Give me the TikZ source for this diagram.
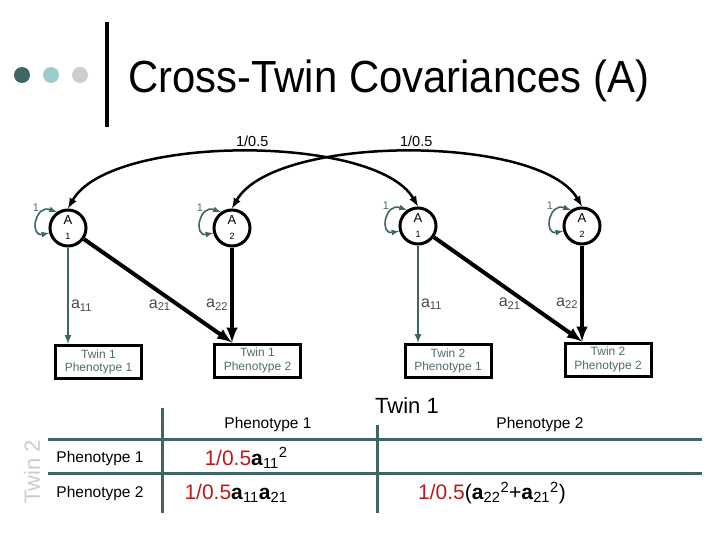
\documentclass[tikz,border=0pt]{standalone}
\usepackage{fontspec}
\setmainfont{Liberation Sans}
\usepackage{graphicx}
\usetikzlibrary{calc}

\definecolor{darkteal}{RGB}{61,102,102}
\definecolor{lightteal}{RGB}{153,204,204}
\definecolor{lightgrey}{RGB}{204,204,204}
\definecolor{boxtext}{RGB}{77,107,107}
\definecolor{coefgrey}{RGB}{64,76,76}
\definecolor{covred}{RGB}{192,24,24}
\newcommand{\fsz}[1]{\fontsize{#1}{#1}\selectfont}

\tikzset{
  latent/.style={circle, draw, line width=3pt, minimum size=36pt, inner sep=0pt, align=center, font=\fsz{13}},
  obsbox/.style={rectangle, draw, line width=3pt, minimum width=86pt, minimum height=33pt, inner sep=1pt, align=center, text=boxtext, font=\fontsize{12}{13.5}\selectfont},
  covpath/.style={latex-latex, line width=2.5pt},
  varloop/.style={latex-latex, line width=1.6pt, darkteal},
  pathblack/.style={-latex, line width=4pt},
  pathteal/.style={-latex, line width=2pt, darkteal},
  coef/.style={font=\fsz{16}, text=coefgrey, inner sep=2pt},
  tabline/.style={line width=3pt, darkteal},
  tabtext/.style={font=\fsz{15.5}},
  cell/.style={font=\fsz{21}}
}

\begin{document}
\begin{tikzpicture}[x=1pt,y=-1pt]
\useasboundingbox (0,0) rectangle (720,540);

% title
\fill[darkteal] (22,75) circle (8);
\fill[lightteal] (51,75) circle (8);
\fill[lightgrey] (80,75) circle (8);
\draw[line width=4pt] (107,22) -- (107,127);
\node[anchor=base west, inner sep=0pt] (title) at (128,93) {\fsz{45}\scalebox{0.93}[1]{Cross-Twin Covariances (A)}};

% latent factors
\node[latent] (a1) at (68,228) {A\\[2pt]{\fsz{9}1}};
\node[latent] (a2) at (232,228) {A\\[2pt]{\fsz{9}2}};
\node[latent] (b1) at (418,226) {A\\[2pt]{\fsz{9}1}};
\node[latent] (b2) at (582,226) {A\\[2pt]{\fsz{9}2}};

\foreach \n in {a1,a2,b1,b2} {
  \draw[varloop] (\n.125) .. controls +(-22,-8) and +(-20,4) .. (\n.195);
  \node[font=\fsz{11}, text=boxtext, inner sep=0pt] (l\n) at ($(\n)+(-32,-20)$) {1};
}

% cross-twin covariances
\draw[covpath] (a1.north) .. controls (110,134) and (376,134) .. (b1.north)
  node[pos=0.52, above=1pt, font=\fsz{14.5}] (cov1) {1/0.5};
\draw[covpath] (a2.north) .. controls (274,134) and (540,134) .. (b2.north)
  node[pos=0.52, above=1pt, font=\fsz{14.5}] (cov2) {1/0.5};

% phenotypes
\node[obsbox] (t1p1) at (98.5,362) {Twin 1\\Phenotype 1};
\node[obsbox] (t1p2) at (257.5,360.5) {Twin 1\\Phenotype 2};
\node[obsbox] (t2p1) at (448,361) {Twin 2\\Phenotype 1};
\node[obsbox] (t2p2) at (608,359.5) {Twin 2\\Phenotype 2};

% loadings
\draw[pathteal] (a1) -- (a1 |- t1p1.north) node[coef, pos=0.6, right] (la11) {a\textsubscript{11}};
\draw[pathblack] (a1) -- (a2 |- t1p2.north) node[coef, pos=0.64, left=4pt] (la21) {a\textsubscript{21}};
\draw[pathblack] (a2) -- (a2 |- t1p2.north) node[coef, pos=0.6, left] (la22) {a\textsubscript{22}};
\draw[pathteal] (b1) -- (b1 |- t2p1.north) node[coef, pos=0.6, right] (lb11) {a\textsubscript{11}};
\draw[pathblack] (b1) -- (b2 |- t2p2.north) node[coef, pos=0.64, left=4pt] (lb21) {a\textsubscript{21}};
\draw[pathblack] (b2) -- (b2 |- t2p2.north) node[coef, pos=0.6, left] (lb22) {a\textsubscript{22}};

% covariance table
\draw[tabline] (48,439) -- (702,439);
\draw[tabline] (48,473) -- (702,473);
\draw[tabline] (162,408) -- (162,513);
\draw[tabline] (377,425) -- (377,513);
\node[font=\fsz{22}] (twin1) at (407,406) {Twin 1};
\node[font=\fsz{22}, text=lightgrey, rotate=90] (twin2) at (32,472) {Twin 2};
\node[tabtext] (col1) at (268,424) {Phenotype 1};
\node[tabtext] (col2) at (540,424) {Phenotype 2};
\node[tabtext] (row1) at (100,458) {Phenotype 1};
\node[tabtext] (row2) at (100,493) {Phenotype 2};
\node[cell] (c11) at (246,458) {{\color{covred}1/0.5}\textbf{a}\textsubscript{11}\textsuperscript{2}};
\node[cell] (c21) at (236,493) {{\color{covred}1/0.5}\textbf{a}\textsubscript{11}\textbf{a}\textsubscript{21}};
\node[cell] (c22) at (492,493) {{\color{covred}1/0.5}(\textbf{a}\textsubscript{22}\textsuperscript{2}+\textbf{a}\textsubscript{21}\textsuperscript{2})};
\end{tikzpicture}
\end{document}
